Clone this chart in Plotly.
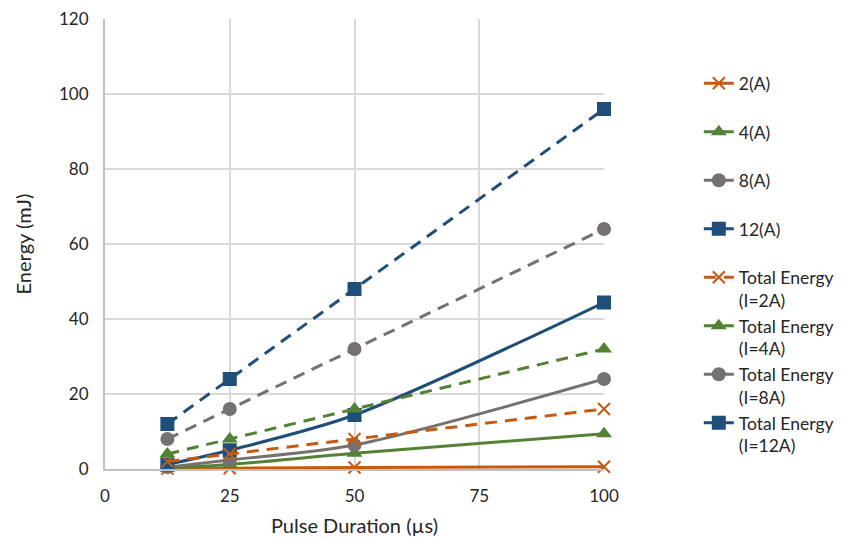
import plotly.graph_objects as go

pulse_us = [12.5, 25, 50, 100]

e_2a = [0.1, 0.2, 0.4, 0.6]
e_4a = [0.3, 1.2, 4.2, 9.4]
e_8a = [0.5, 2.4, 6.4, 24]
e_12a = [1.2, 5.0, 14.4, 44.4]

total_2a = [2, 4, 8, 16]
total_4a = [4, 8, 16, 32]
total_8a = [8, 16, 32, 64]
total_12a = [12, 24, 48, 96]

names = ["2(A)", "4(A)", "8(A)", "12(A)",
         "Total Energy<br>(I=2A)", "Total Energy<br>(I=4A)",
         "Total Energy<br>(I=8A)", "Total Energy<br>(I=12A)"]

x_ticks = [0, 25, 50, 75, 100]
y_ticks = [0, 20, 40, 60, 80, 100, 120]

colors = ["#C55A11", "#548235", "#767171", "#1F4E79"]
symbols = ["x-thin", "triangle-up", "circle", "square"]

fig = go.Figure()
solid = [e_2a, e_4a, e_8a, e_12a]
total = [total_2a, total_4a, total_8a, total_12a]


def marker(i):
    return dict(symbol=symbols[i], size=14 if symbols[i] != "x-thin" else 12,
                color=colors[i],
                line=dict(color=colors[i], width=2 if symbols[i] == "x-thin" else 0))


for i, ys in enumerate(solid):
    fig.add_trace(go.Scatter(
        x=pulse_us, y=ys, mode="lines+markers", name=names[i] + "<br> ",
        legendgroup=f"g{i}",
        line=dict(color=colors[i], width=3, shape="spline", smoothing=0.8),
        marker=marker(i), cliponaxis=False,
    ))
for i, ys in enumerate(total):
    fig.add_trace(go.Scatter(
        x=pulse_us, y=ys, mode="lines+markers", name=names[4 + i],
        legendgroup=f"h{i}",
        line=dict(color=colors[i], width=3, dash="12px,8px"),
        marker=marker(i), cliponaxis=False,
    ))

fig.update_layout(
    width=856, height=539,
    margin=dict(l=105, r=252, t=19, b=70),
    paper_bgcolor="white", plot_bgcolor="white",
    font=dict(family="Lato, Carlito, sans-serif", size=17, color="#262626"),
    showlegend=True,
    legend=dict(x=1.19, y=0.897, xanchor="left", yanchor="top",
                traceorder="grouped", tracegroupgap=0, valign="top",
                font=dict(size=17.5, color="#262626"), bgcolor="rgba(0,0,0,0)"),
    xaxis=dict(range=[0, 100], tickvals=x_ticks, showgrid=True, gridcolor="#D9D9D9",
               gridwidth=1.5, showline=True, linecolor="#BFBFBF", linewidth=2,
               zeroline=False, ticks="outside", ticklen=11, tickcolor="rgba(0,0,0,0)",
               automargin=False,
               title=dict(text="Pulse Duration (µs)", font=dict(size=20), standoff=14),
               tickfont=dict(size=17)),
    yaxis=dict(range=[0, 120], tickvals=y_ticks, showgrid=True, gridcolor="#D9D9D9",
               gridwidth=1.5, showline=True, linecolor="#BFBFBF", linewidth=2,
               zeroline=False, ticks="outside", ticklen=11, tickcolor="rgba(0,0,0,0)",
               automargin=False,
               title=dict(text="Energy (mJ)", font=dict(size=20), standoff=22),
               tickfont=dict(size=17)),
)

fig.write_html("out.html")
